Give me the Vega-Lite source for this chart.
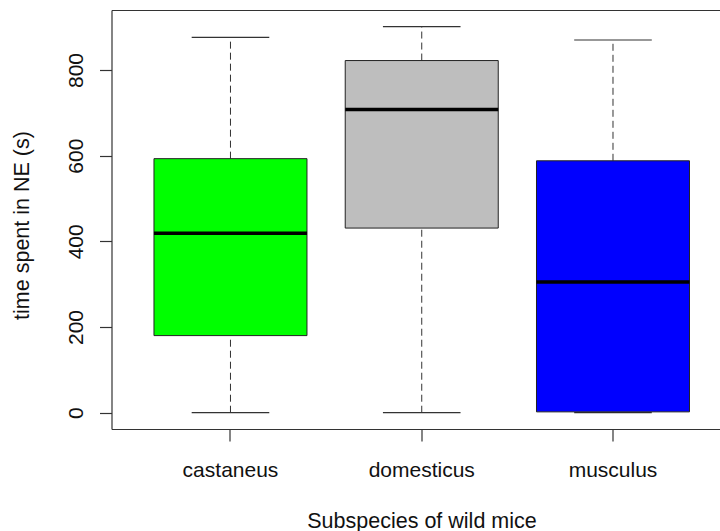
{
  "$schema": "https://vega.github.io/schema/vega-lite/v6.json",
  "width": 608.5,
  "height": 419,
  "autosize": {"type": "none"},
  "padding": {"left": 111.5, "top": 10, "right": 0, "bottom": 102},
  "config": {
    "view": {"stroke": null},
    "font": "Liberation Sans",
    "axisY": {"grid": false, "domain": true,
              "tickSize": 12, "tickColor": "#333", "tickWidth": 1.2, "domainColor": "#333", "domainWidth": 1.2,
              "labelFont": "Liberation Sans", "labelFontSize": 21, "labelColor": "#111",
              "labelAngle": 270, "labelAlign": "center", "labelBaseline": "alphabetic", "labelPadding": 17.5,
              "labelFlush": false, "labelOverlap": false,
              "titleFont": "Liberation Sans", "titleFontSize": 21.5,
              "titleFontWeight": "normal", "titleColor": "#111", "titleAngle": 270,
              "titleX": -83.5, "titleY": 215, "titleBaseline": "alphabetic", "titleAlign": "center"}
  },
  "data": {"values": [
    {"subspecies": "castaneus", "min": 0, "q1": 180, "median": 419, "q3": 593, "max": 876},
    {"subspecies": "domesticus", "min": 0, "q1": 431, "median": 708, "q3": 822, "max": 901},
    {"subspecies": "musculus", "min": 0, "q1": 2, "median": 305, "q3": 588, "max": 870}
  ]},
  "encoding": {
    "x": {"field": "subspecies", "type": "nominal", "sort": null,
          "scale": {"type": "band", "paddingInner": 0.2, "paddingOuter": 0.1908, "align": 0.582},
          "axis": null}
  },
  "layer": [
    {
      "mark": {"type": "rule", "strokeDash": [7, 4], "color": "#333", "strokeWidth": 1},
      "encoding": {
        "y": {"field": "q3", "type": "quantitative", "scale": {"domain": [-38, 940], "nice": false, "zero": false},
              "axis": {"orient": "left", "values": [0, 200, 400, 600, 800], "title": "time spent in NE (s)"}},
        "y2": {"field": "max"}
      }
    },
    {
      "mark": {"type": "rule", "strokeDash": [7, 4], "color": "#333", "strokeWidth": 1},
      "encoding": {
        "y": {"field": "min", "type": "quantitative", "scale": {"domain": [-38, 940], "nice": false, "zero": false},
              "axis": {"orient": "left", "values": [0, 200, 400, 600, 800], "title": "time spent in NE (s)"}},
        "y2": {"field": "q1"}
      }
    },
    {
      "mark": {"type": "tick", "size": 77.6, "thickness": 1.2, "color": "#333", "opacity": 1},
      "encoding": {
        "y": {"field": "max", "type": "quantitative", "scale": {"domain": [-38, 940], "nice": false, "zero": false},
              "axis": {"orient": "left", "values": [0, 200, 400, 600, 800], "title": "time spent in NE (s)"}}
      }
    },
    {
      "mark": {"type": "tick", "size": 77.6, "thickness": 1.2, "color": "#333", "opacity": 1},
      "encoding": {
        "y": {"field": "min", "type": "quantitative", "scale": {"domain": [-38, 940], "nice": false, "zero": false},
              "axis": {"orient": "left", "values": [0, 200, 400, 600, 800], "title": "time spent in NE (s)"}}
      }
    },
    {
      "mark": {"type": "bar", "stroke": "#222", "strokeWidth": 1, "opacity": 1},
      "encoding": {
        "x": {"field": "subspecies", "type": "nominal", "sort": null,
              "scale": {"type": "band", "paddingInner": 0.2, "paddingOuter": 0.1908, "align": 0.582},
              "axis": {"orient": "bottom", "title": "Subspecies of wild mice",
                       "titleFont": "Liberation Sans", "titleFontSize": 21.5, "titleFontWeight": "normal", "titleColor": "#111",
                       "titleX": 310, "titleY": 98, "titleBaseline": "alphabetic", "titleAlign": "center",
                       "labelFont": "Liberation Sans", "labelFontSize": 21, "labelColor": "#111", "labelAngle": 0,
                       "labelBaseline": "alphabetic", "labelAlign": "center", "labelPadding": 35,
                       "tickSize": 12, "tickColor": "#333", "tickWidth": 1.2, "domainColor": "#333", "domainWidth": 1.2}},
        "y": {"field": "q1", "type": "quantitative", "scale": {"domain": [-38, 940], "nice": false, "zero": false},
              "axis": {"orient": "left", "values": [0, 200, 400, 600, 800], "title": "time spent in NE (s)"}},
        "y2": {"field": "q3"},
        "fill": {"field": "subspecies", "type": "nominal",
                 "scale": {"domain": ["castaneus", "domesticus", "musculus"], "range": ["#00FF00", "#BEBEBE", "#0000FF"]},
                 "legend": null}
      }
    },
    {
      "mark": {"type": "tick", "size": 153, "thickness": 3.5, "color": "#000", "opacity": 1},
      "encoding": {
        "x": {"field": "subspecies", "type": "nominal", "sort": null,
              "scale": {"type": "band", "paddingInner": 0.2, "paddingOuter": 0.1908, "align": 0.582},
              "axis": {"orient": "top", "domain": true, "ticks": false, "labels": false, "title": null,
                       "domainColor": "#333", "domainWidth": 1.2}},
        "y": {"field": "median", "type": "quantitative", "scale": {"domain": [-38, 940], "nice": false, "zero": false},
              "axis": {"orient": "left", "values": [0, 200, 400, 600, 800], "title": "time spent in NE (s)"}}
      }
    }
  ]
}
